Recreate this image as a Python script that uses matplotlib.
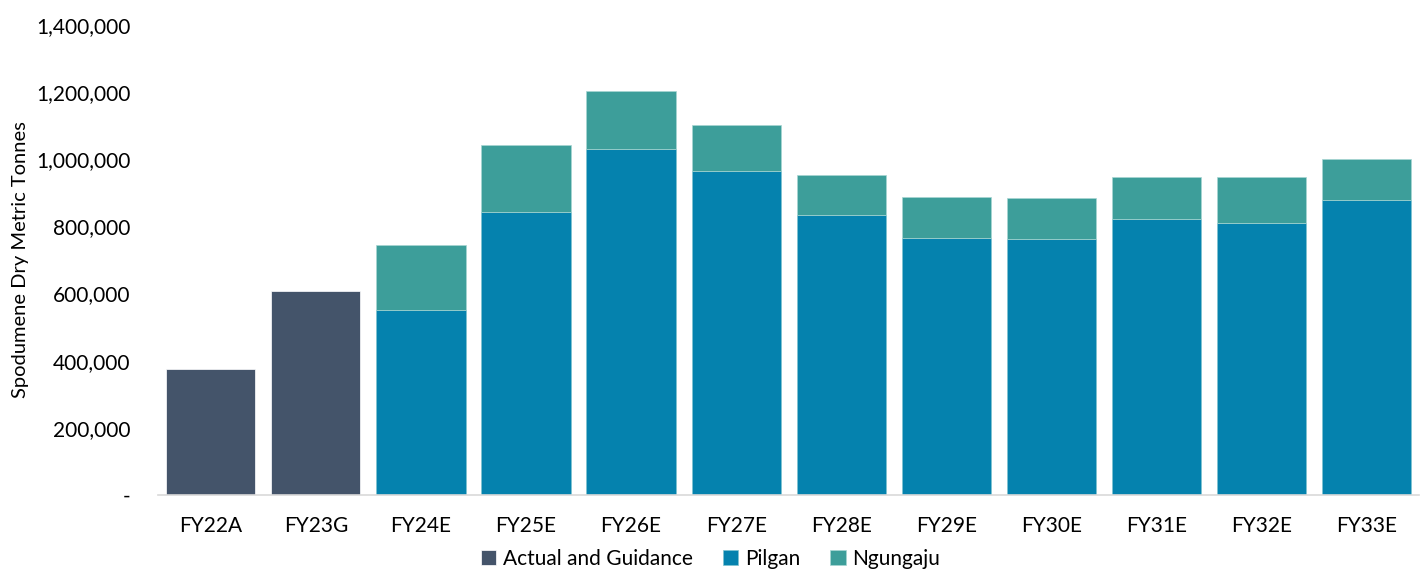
import matplotlib
matplotlib.use("Agg")
import matplotlib.pyplot as plt
from matplotlib.ticker import FuncFormatter
import numpy as np

categories = ["FY22A", "FY23G", "FY24E", "FY25E", "FY26E", "FY27E",
              "FY28E", "FY29E", "FY30E", "FY31E", "FY32E", "FY33E"]
actual_guidance = [375000, 608000, 0, 0, 0, 0, 0, 0, 0, 0, 0, 0]
pilgan = [0, 0, 551000, 843000, 1031000, 965000, 834000, 766000, 763000, 822000, 810000, 879000]
ngungaju = [0, 0, 194000, 200000, 173000, 137000, 119000, 122000, 122000, 125000, 137000, 122000]
series_names = ["Actual and Guidance", "Pilgan", "Ngungaju"]
colors = ["#44546a", "#0582ae", "#3d9e9a"]

plt.rcParams['font.family'] = ['Lato', 'DejaVu Sans']

fig = plt.figure(figsize=(14.25, 5.83), dpi=100)
ax = fig.add_axes([0.111, 0.151, 0.885, 0.806])

x = np.arange(len(categories))
w = 0.85
ax.bar(x, actual_guidance, w, color=colors[0], label=series_names[0], edgecolor="white", linewidth=0.5)
ax.bar(x, pilgan, w, color=colors[1], label=series_names[1], edgecolor="#7fc4cf", linewidth=0.5)
ax.bar(x, ngungaju, w, bottom=pilgan, color=colors[2], label=series_names[2], edgecolor="#a8d6d3", linewidth=0.5)

ax.set_xlim(-0.5, len(categories) - 0.5)
ax.set_ylim(0, 1400000)
ax.set_yticks(np.arange(0, 1400001, 200000))
ax.yaxis.set_major_formatter(FuncFormatter(lambda v, p: "-" if v == 0 else f"{int(v):,}"))
ax.set_xticks(x)
ax.set_xticklabels(categories)
ax.tick_params(axis="both", length=0, labelsize=15, colors="#000000")
ax.tick_params(axis="x", pad=15)
ax.tick_params(axis="y", pad=20)
for s in ["top", "right", "left"]:
    ax.spines[s].set_visible(False)
ax.spines["bottom"].set_color("#d9d9d9")
ax.spines["bottom"].set_linewidth(1.2)
ax.set_ylabel("Spodumene Dry Metric Tonnes", fontsize=14.5, labelpad=5)

fig.legend(loc="center", bbox_to_anchor=(0.4985, 0.042), ncol=3, frameon=False,
           fontsize=15, handlelength=0.75, handleheight=0.75, handletextpad=0.3, columnspacing=1.45)

fig.savefig("out.png", dpi=100)
